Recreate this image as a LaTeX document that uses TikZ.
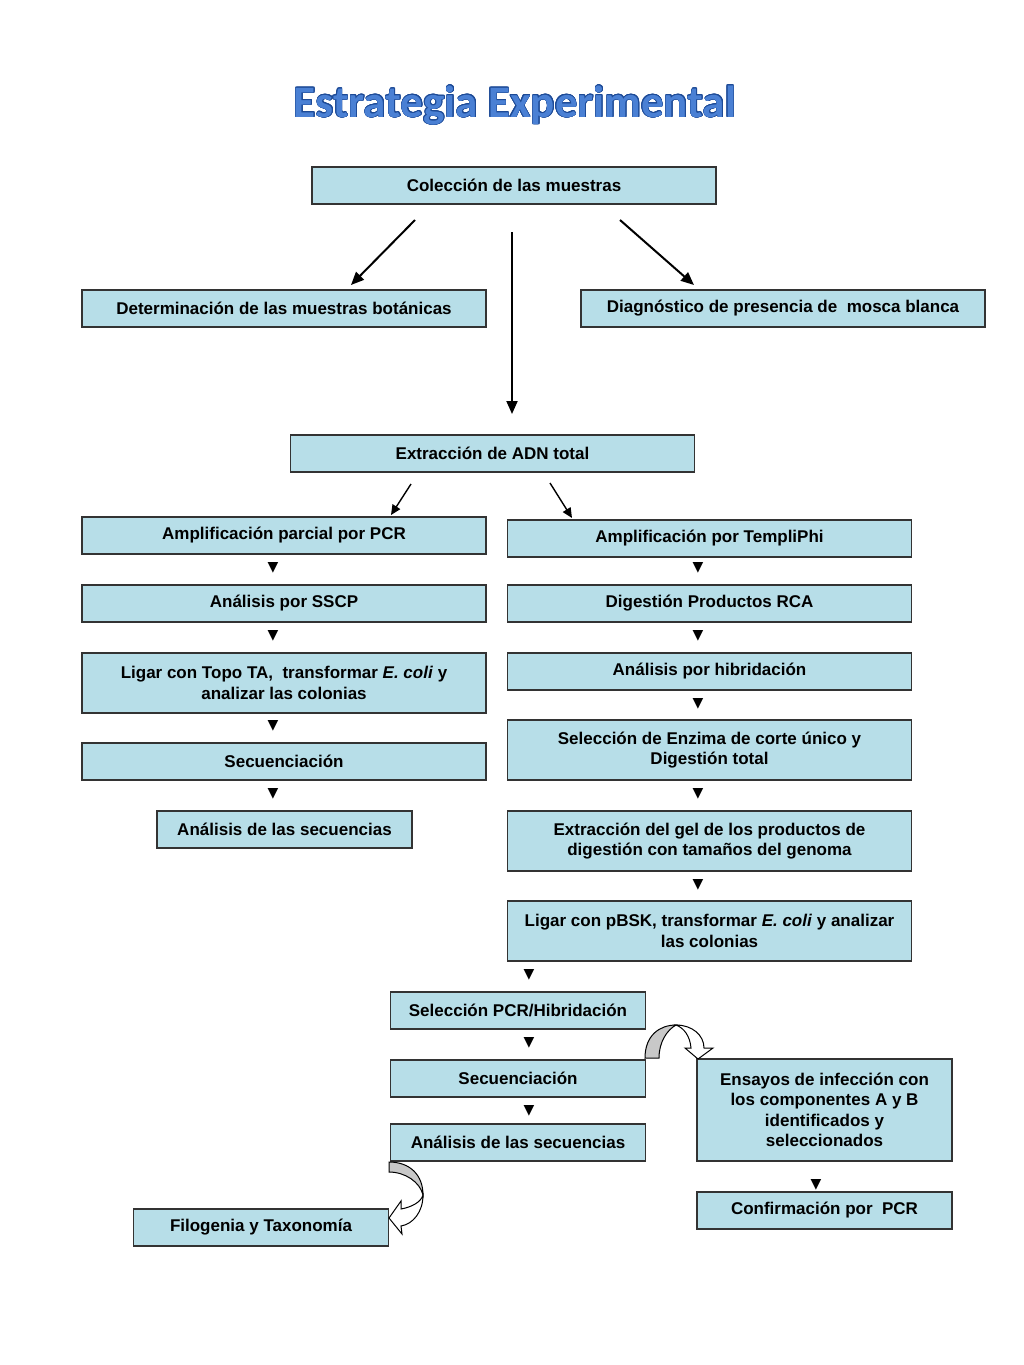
\documentclass[tikz,border=0pt]{standalone}
\usepackage{fontspec}
\usepackage{xcolor}
\usepackage[copies]{contour}
\setmainfont{Liberation Sans}
\newfontfamily\titlefont{Carlito}
\newfontfamily\symfont{DejaVu Sans}
\usetikzlibrary{arrows.meta}
\definecolor{cellfill}{HTML}{B7DEE8}
\definecolor{cellline}{HTML}{333333}
\definecolor{titleblue}{HTML}{4A80D4}
\definecolor{titleedge}{HTML}{1D4A96}
\definecolor{bandgray}{HTML}{C8C8C8}
\contourlength{0.6pt}
\tikzset{
  cell/.style={draw=cellline, fill=cellfill, line width=1.1pt, inner sep=2pt,
    minimum width=404pt, minimum height=37pt, align=center,
    font=\bfseries\fontsize{17}{20.5}\selectfont},
  narrow/.style={minimum width=255pt},
  pointer/.style={inner sep=0pt, font=\symfont\fontsize{14}{14}\selectfont},
  bigarrow/.style={line width=2pt, -{Triangle[length=13pt,width=11pt]}},
  smallarrow/.style={line width=1.4pt, -{Triangle[length=10pt,width=9pt]}},
  band/.style={draw=black, line width=1pt}
}

\begin{document}
\begin{tikzpicture}[x=1pt, y=-1pt]
  \useasboundingbox (0,0) rectangle (1024,1365);
  \node[anchor=base] (title) at (515,117)
    {\titlefont\bfseries\fontsize{45}{52}\selectfont\contour{titleedge}{\color{titleblue}Estrategia Experimental}};

  \node[cell] (coleccion) at (514,185.5) {Colección de las muestras};
  \node[cell] (botanicas) at (284,308.5) {Determinación de las muestras botánicas};
  \node[cell] (mosca) at (783,308.5) {Diagnóstico de presencia de \ mosca blanca};
  \node[cell] (adn) at (492.5,453.5) {Extracción de ADN total};

  \node[cell] (pcr) at (284,535.5) {Amplificación parcial por PCR};
  \node[cell] (sscp) at (284,603.5) {Análisis por SSCP};
  \node[cell, minimum height=60pt] (topo) at (284,683)
    {Ligar con Topo TA, \ transformar \textit{E. coli} y\\analizar las colonias};
  \node[cell] (secL) at (284,761.5) {Secuenciación};
  \node[cell, narrow] (analL) at (284.5,829.5) {Análisis de las secuencias};

  \node[cell] (templi) at (709.5,538.5) {Amplificación por TempliPhi};
  \node[cell] (rca) at (709.5,603.5) {Digestión Productos RCA};
  \node[cell] (hibrid) at (709.5,671.5) {Análisis por hibridación};
  \node[cell, minimum height=60pt] (enzima) at (709.5,750)
    {Selección de Enzima de corte único y\\Digestión total};
  \node[cell, minimum height=60pt] (gel) at (709.5,841)
    {Extracción del gel de los productos de\\digestión con tamaños del genoma};
  \node[cell, minimum height=60pt] (pbsk) at (709.5,931)
    {Ligar con pBSK, transformar \textit{E. coli} y analizar\\las colonias};

  \node[cell, narrow] (selpcr) at (518,1010.5) {Selección PCR/Hibridación};
  \node[cell, narrow] (secB) at (518,1078.5) {Secuenciación};
  \node[cell, narrow] (analB) at (518,1142.5) {Análisis de las secuencias};
  \node[cell, narrow] (filog) at (261,1227.5) {Filogenia y Taxonomía};
  \node[cell, narrow, minimum height=102pt] (ensayos) at (824.5,1110)
    {Ensayos de infección con\\los componentes A y B\\identificados y\\seleccionados};
  \node[cell, narrow] (confirm) at (824.5,1210.5) {Confirmación por \ PCR};

  \node[pointer] (p1) at (273,568) {▼};
  \node[pointer] (p2) at (698,568) {▼};
  \node[pointer] (p3) at (273,636) {▼};
  \node[pointer] (p4) at (698,636) {▼};
  \node[pointer] (p5) at (273,726) {▼};
  \node[pointer] (p6) at (698,704) {▼};
  \node[pointer] (p7) at (273,794) {▼};
  \node[pointer] (p8) at (698,794) {▼};
  \node[pointer] (p9) at (698,885) {▼};
  \node[pointer] (p10) at (529,975) {▼};
  \node[pointer] (p11) at (529,1043) {▼};
  \node[pointer] (p12) at (529,1111) {▼};
  \node[pointer] (p13) at (816,1185) {▼};

  \coordinate (colLa) at (415,220);
  \coordinate (colLb) at (351,285);
  \coordinate (colMa) at (512,232);
  \coordinate (colMb) at (512,414);
  \coordinate (colRa) at (620,220);
  \coordinate (colRb) at (694,285);
  \coordinate (adnLa) at (411,484);
  \coordinate (adnLb) at (391,515);
  \coordinate (adnRa) at (550,483);
  \coordinate (adnRb) at (572,518);
  \draw[bigarrow] (colLa) -- (colLb);
  \draw[bigarrow] (colMa) -- (colMb);
  \draw[bigarrow] (colRa) -- (colRb);
  \draw[smallarrow] (adnLa) -- (adnLb);
  \draw[smallarrow] (adnRa) -- (adnRb);

  \filldraw[band, fill=bandgray] (645,1058) .. controls (645,1035) and (660,1025) .. (676,1025)
    .. controls (667,1030) and (659,1042) .. (659,1058) -- cycle;
  \filldraw[band, fill=white] (676,1025) .. controls (692,1025) and (704,1035) .. (704,1048)
    -- (713,1048) -- (698,1059) -- (685,1048) -- (691,1048)
    .. controls (690,1036) and (684,1028) .. (676,1025) -- cycle;

  \filldraw[band, fill=bandgray] (389,1162) .. controls (410,1162) and (423,1175) .. (423,1195)
    .. controls (420,1182) and (405,1172) .. (389,1172) -- cycle;
  \filldraw[band, fill=white] (423,1195) .. controls (423,1212) and (413,1224) .. (401,1226)
    -- (402,1234) -- (389,1218) -- (401,1201) -- (401,1209)
    .. controls (412,1207) and (421,1202) .. (423,1195) -- cycle;
\end{tikzpicture}
\end{document}
